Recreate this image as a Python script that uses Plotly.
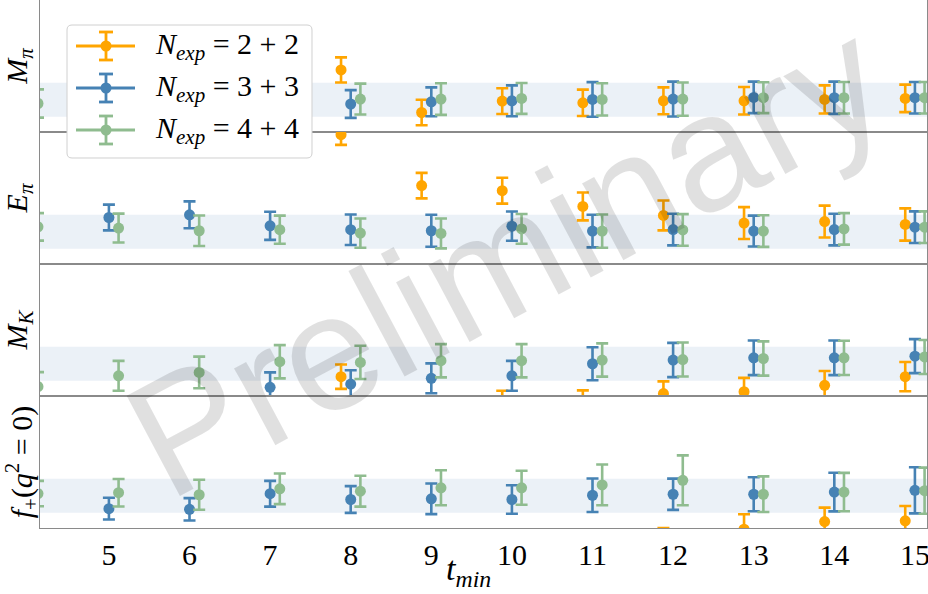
import plotly.graph_objects as go
from plotly.subplots import make_subplots

# ---------------- data ----------------
t_min = [4, 5, 6, 7, 8, 9, 10, 11, 12, 13, 14, 15]
series_labels = ["2 + 2", "3 + 3", "4 + 4"]
panel_titles = ["<i>M<sub>π</sub></i>", "<i>E<sub>π</sub></i>", "<i>M<sub>K</sub></i>",
                "<i>f</i><sub>+</sub>(<i>q</i><sup>2</sup> = 0)"]

# panel 1 : M_pi
mpi_22 = [None, None, None, None, 1.76, -0.75, -0.08, -0.18, -0.06, -0.06, 0.02, 0.08]
mpi_22_err = [None, None, None, None, 0.74, 0.75, 0.76, 0.78, 0.79, 0.81, 0.83, 0.81]
mpi_33 = [None, None, None, None, -0.25, -0.12, -0.06, 0.02, 0.04, 0.14, 0.12, 0.12]
mpi_33_err = [None, None, None, None, 0.82, 0.85, 0.91, 1.02, 1.03, 0.93, 0.95, 0.93]
mpi_44 = [-0.22, None, None, None, 0.04, 0.04, 0.08, 0.02, 0.04, 0.12, 0.12, 0.12]
mpi_44_err = [0.83, None, None, None, 0.91, 0.93, 0.91, 0.95, 0.98, 0.91, 0.93, 0.93]

# panel 2 : E_pi
epi_22 = [None, None, None, None, 5.72, 2.72, 2.42, 1.49, 0.96, 0.51, 0.60, 0.43]
epi_22_err = [None, None, None, None, 0.60, 0.75, 0.76, 0.82, 0.88, 0.94, 0.94, 0.95]
epi_33 = [None, 0.84, 1.00, 0.35, 0.12, 0.06, 0.33, 0.04, 0.13, 0.04, 0.13, 0.27]
epi_33_err = [None, 0.76, 0.79, 0.83, 0.90, 0.94, 0.86, 0.96, 0.93, 0.91, 0.93, 0.93]
epi_44 = [0.29, 0.22, 0.06, 0.12, -0.08, -0.10, 0.17, 0.04, 0.11, 0.04, 0.17, 0.27]
epi_44_err = [0.81, 0.85, 0.90, 0.83, 0.86, 0.88, 0.88, 0.98, 0.93, 0.93, 0.93, 0.93]

# panel 3 : M_K
mk_22 = [None, None, None, None, -0.76, None, -2.35, -2.35, -1.76, -1.65, -1.27, -0.76]
mk_22_err = [None, None, None, None, 0.72, None, 0.76, 0.78, 0.72, 0.82, 0.84, 0.86]
mk_33 = [None, None, None, -1.39, -1.20, -0.86, -0.71, 0.00, 0.22, 0.35, 0.35, 0.45]
mk_33_err = [None, None, None, 0.88, 0.82, 0.88, 0.88, 0.97, 1.01, 1.02, 1.02, 1.00]
mk_44 = [-1.35, -0.71, -0.51, 0.12, 0.08, 0.18, 0.18, 0.22, 0.25, 0.31, 0.35, 0.40]
mk_44_err = [0.86, 0.88, 0.93, 0.98, 0.98, 0.98, 0.98, 0.98, 1.00, 1.01, 1.01, 1.00]

# panel 4 : f_+(q^2=0)
fp_22 = [None, None, None, None, None, None, None, None, -2.70, -1.97, -1.52, -1.48]
fp_22_err = [None, None, None, None, None, None, None, None, 0.80, 0.88, 0.82, 0.88]
fp_33 = [None, -0.76, -0.80, 0.12, -0.22, -0.18, -0.22, 0.03, 0.09, 0.09, 0.22, 0.32]
fp_33_err = [None, 0.64, 0.66, 0.76, 0.79, 0.90, 0.84, 0.99, 0.92, 1.00, 1.14, 1.36]
fp_44 = [0.13, 0.18, 0.06, 0.41, 0.27, 0.47, 0.47, 0.64, 0.91, 0.09, 0.22, 0.30]
fp_44_err = [0.75, 0.81, 0.88, 0.90, 0.91, 1.03, 1.00, 1.20, 1.47, 1.05, 1.13, 1.36]

# fit result bands (central value, half width) for each panel
band_center = [0.0, 0.0, 0.0, 0.0]
band_halfwidth = [1.0, 1.0, 1.0, 1.0]

panels = [
    [(mpi_22, mpi_22_err), (mpi_33, mpi_33_err), (mpi_44, mpi_44_err)],
    [(epi_22, epi_22_err), (epi_33, epi_33_err), (epi_44, epi_44_err)],
    [(mk_22, mk_22_err), (mk_33, mk_33_err), (mk_44, mk_44_err)],
    [(fp_22, fp_22_err), (fp_33, fp_33_err), (fp_44, fp_44_err)],
]

# ---------------- style ----------------
colors = ["#FFA500", "#4682B4", "#8FBC8F"]
offsets = [-0.12, 0.0, 0.12]
band_color = "rgba(70,130,180,0.11)"
axis_color = "#8a8a8a"
serif = "Liberation Serif, DejaVu Serif, serif"

W, H = 928, 594
ML, MR, MT, MB = 40, 1, 0, 66
PW, PH = W - ML - MR, H - MT - MB

fig = make_subplots(rows=4, cols=1, shared_xaxes=True, vertical_spacing=0)

for r, series in enumerate(panels, start=1):
    for k, (vals, errs) in enumerate(series):
        fig.add_trace(go.Scatter(
            x=[t + offsets[k] for t in t_min], y=vals,
            mode="markers",
            marker=dict(color=colors[k], size=11, line=dict(width=0)),
            error_y=dict(type="data", array=errs, symmetric=True,
                         color=colors[k], thickness=2.6, width=6),
            showlegend=False, hoverinfo="skip",
        ), row=r, col=1)
    fig.add_shape(type="rect", xref="x domain" if r == 1 else f"x{r} domain",
                  yref="y" if r == 1 else f"y{r}",
                  x0=0, x1=1,
                  y0=band_center[r - 1] - band_halfwidth[r - 1],
                  y1=band_center[r - 1] + band_halfwidth[r - 1],
                  fillcolor=band_color, line=dict(width=0), layer="below")

for r in range(1, 5):
    fig.update_yaxes(range=[-1.9, 5.88], showticklabels=False, ticks="",
                     showgrid=False, zeroline=False, showline=True, mirror=True,
                     linecolor=axis_color, linewidth=1, automargin=False,
                     title=dict(text=panel_titles[r - 1], standoff=2,
                                font=dict(family=serif, size=30, color="black")),
                     row=r, col=1)
    fig.update_xaxes(range=[4.145, 15.15], tickvals=t_min[1:], ticks="",
                     showgrid=False, zeroline=False, showline=True, mirror=True,
                     linecolor=axis_color, linewidth=1, automargin=False,
                     ticklabeloverflow="allow",
                     tickfont=dict(family=serif, size=30, color="black"),
                     row=r, col=1)


def paper(px, py):
    return (px - ML) / PW, (MT + PH - py) / PH


# x axis title
tx, ty = paper(468, 571)
fig.add_annotation(xref="paper", yref="paper", x=tx, y=ty, text="<i>t<sub>min</sub></i>",
                   showarrow=False, xanchor="center", yanchor="middle",
                   font=dict(family=serif, size=34, color="black"))

# ---------------- legend (drawn by hand, matplotlib style) ----------------
bx0, by0, bx1, by1, rad = 67, 25, 312, 158, 5


def P(x, y):
    a, b = paper(x, y)
    return f"{a:.5f},{b:.5f}"


path = (f"M{P(bx0 + rad, by0)} L{P(bx1 - rad, by0)} Q{P(bx1, by0)} {P(bx1, by0 + rad)} "
        f"L{P(bx1, by1 - rad)} Q{P(bx1, by1)} {P(bx1 - rad, by1)} "
        f"L{P(bx0 + rad, by1)} Q{P(bx0, by1)} {P(bx0, by1 - rad)} "
        f"L{P(bx0, by0 + rad)} Q{P(bx0, by0)} {P(bx0 + rad, by0)} Z")
fig.add_shape(type="path", xref="paper", yref="paper", path=path,
              fillcolor="white", line=dict(color="#d0d0d0", width=1), layer="above")

row_y = [46, 88, 130]
for k in range(3):
    yy = row_y[k]
    c = colors[k]

    def seg(x0, y0, x1, y1, w=2.8):
        a0, b0 = paper(x0, y0)
        a1, b1 = paper(x1, y1)
        fig.add_shape(type="line", xref="paper", yref="paper", x0=a0, y0=b0, x1=a1, y1=b1,
                      line=dict(color=c, width=w), layer="above")

    seg(76, yy, 135, yy)
    seg(106, yy - 14, 106, yy + 14)
    seg(99, yy - 14, 113, yy - 14)
    seg(99, yy + 14, 113, yy + 14)
    a0, b0 = paper(100.5, yy - 5.5)
    a1, b1 = paper(111.5, yy + 5.5)
    fig.add_shape(type="circle", xref="paper", yref="paper", x0=a0, y0=b0, x1=a1, y1=b1,
                  fillcolor=c, line=dict(width=0), layer="above")
    ax, ay = paper(153, yy)
    fig.add_annotation(xref="paper", yref="paper", x=ax, y=ay, xanchor="left", yanchor="middle",
                       text=f"<i>N<sub>exp</sub></i> = {series_labels[k]}", showarrow=False,
                       font=dict(family=serif, size=30, color="black"))

# ---------------- watermark ----------------
wx, wy = paper(506, 258)
fig.add_annotation(xref="paper", yref="paper", x=wx, y=wy, text="Preliminary",
                   showarrow=False, textangle=-28,
                   font=dict(family="Liberation Sans, Arial, sans-serif", size=165,
                             color="rgba(0,0,0,0.12)"))

fig.update_layout(width=W, height=H, margin=dict(l=ML, r=MR, t=MT, b=MB),
                  plot_bgcolor="white", paper_bgcolor="white", showlegend=False)

fig.write_html("out.html", config={"displayModeBar": False},
               post_script="document.body.style.margin='0';")
